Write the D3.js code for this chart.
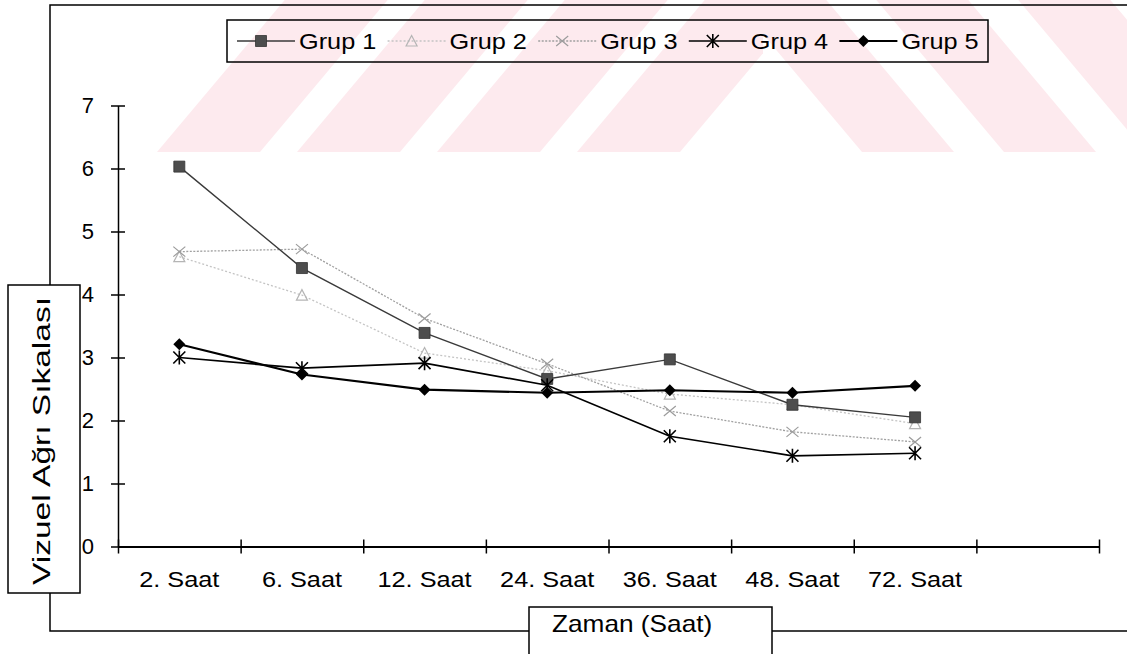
<!DOCTYPE html>
<html>
<head>
<meta charset="utf-8">
<script src="https://cdn.jsdelivr.net/npm/d3@7"></script>
<style>
  body { margin: 0; background: #fff; }
  svg { display: block; }
  text { font-family: "Liberation Sans", Arial, sans-serif; fill: #000; }
</style>
</head>
<body>
<svg id="chart" width="1127" height="654"></svg>
<script>
// Time points (the last band is left empty on the axis)
const times = ["2. Saat", "6. Saat", "12. Saat", "24. Saat", "36. Saat", "48. Saat", "72. Saat", ""];
// Mean visual pain scores per group
const grup1 = [6.03, 4.42, 3.39, 2.66, 2.97, 2.25, 2.05];
const grup2 = [4.60, 3.99, 3.07, 2.79, 2.42, 2.25, 1.95];
const grup3 = [4.68, 4.72, 3.62, 2.90, 2.15, 1.82, 1.66];
const grup4 = [3.00, 2.83, 2.91, 2.56, 1.75, 1.44, 1.48];
const grup5 = [3.21, 2.73, 2.49, 2.44, 2.48, 2.44, 2.55];
const seriesNames = ["Grup 1", "Grup 2", "Grup 3", "Grup 4", "Grup 5"];
const yTicks = [0, 1, 2, 3, 4, 5, 6, 7];
const yTitle = "Vizuel Ağrı Sıkalası";
const xTitle = "Zaman (Saat)";

const svg = d3.select("#chart");
const W = 1127, H = 654;

// ---- pink striped background logo (upper band only) ----
const defs = svg.append("defs");
defs.append("clipPath").attr("id", "wmL").append("rect").attr("x", 0).attr("y", 0).attr("width", 763).attr("height", 152);
defs.append("clipPath").attr("id", "wmR").append("rect").attr("x", 763).attr("y", 0).attr("width", W - 763).attr("height", 152);
const wmColor = "#fdeaee";
const wmSlope = 0.84, wmBase = 152, wmTop = -20;
const leftStarts = [157, 297, 437, 577], leftW = 103;
const rightStarts = [862, 1004, 1146], rightW = 92;
const rise = wmBase - wmTop;
const wmL = svg.append("g").attr("clip-path", "url(#wmL)");
leftStarts.forEach(x0 => {
  wmL.append("path").attr("fill", wmColor)
    .attr("d", d3.line()([[x0, wmBase], [x0 + leftW, wmBase], [x0 + leftW + wmSlope * rise, wmTop], [x0 + wmSlope * rise, wmTop]]) + "Z");
});
const wmR = svg.append("g").attr("clip-path", "url(#wmR)");
rightStarts.forEach(x0 => {
  wmR.append("path").attr("fill", wmColor)
    .attr("d", d3.line()([[x0, wmBase], [x0 + rightW, wmBase], [x0 + rightW - wmSlope * rise, wmTop], [x0 - wmSlope * rise, wmTop]]) + "Z");
});

// ---- scales ----
const plot = { left: 118, right: 1099, top: 105.5, bottom: 546.5 };
const x = d3.scaleBand().domain(times).range([plot.left, plot.right]).paddingInner(0).paddingOuter(0);
const xEdge = d3.scaleLinear().domain([0, times.length]).range([plot.left, plot.right]);
const y = d3.scaleLinear().domain([0, 7]).range([plot.bottom, plot.top]);

function stretched(g, px, py, str, size, sx, anchor) {
  return g.append("text")
    .attr("transform", `translate(${px},${py}) scale(${sx},1)`)
    .attr("font-size", size)
    .attr("text-anchor", anchor)
    .text(str);
}

// ---- outer frame with title boxes ----
const frame = svg.append("g").attr("fill", "none").attr("stroke", "#000").attr("stroke-width", 1.5);
frame.append("path").attr("d", "M50,285 L50,5 L1127,5");
frame.append("path").attr("d", "M50,593 L50,631 L529,631");
frame.append("path").attr("d", "M772,631 L1127,631");
frame.append("rect").attr("x", 8).attr("y", 285).attr("width", 72).attr("height", 308);
frame.append("path").attr("d", "M529,670 L529,607 L772,607 L772,670");

// ---- axis titles ----
svg.append("text")
  .attr("transform", "translate(50,441) rotate(-90)")
  .attr("font-size", 23.5)
  .attr("text-anchor", "middle")
  .attr("textLength", 288)
  .attr("lengthAdjust", "spacingAndGlyphs")
  .text(yTitle);
stretched(svg, 552, 631.5, xTitle, 23, 1.14, "start");

// ---- y axis ----
const yAxis = svg.append("g").attr("transform", `translate(${plot.left},0)`)
  .call(d3.axisLeft(y).tickValues(yTicks).tickSize(7).tickSizeOuter(0).tickFormat(d3.format("d")));
yAxis.select(".domain").attr("stroke", "#000").attr("stroke-width", 1.5);
yAxis.selectAll(".tick line").attr("x1", -7).attr("x2", 7).attr("stroke", "#000").attr("stroke-width", 1.5);
yAxis.selectAll(".tick text").attr("x", -24).attr("font-size", 22).attr("font-family", "Liberation Sans, Arial, sans-serif").attr("fill", "#000");

// ---- x axis (ticks at category boundaries) ----
const xAxis = svg.append("g").attr("transform", `translate(0,${plot.bottom})`)
  .call(d3.axisBottom(xEdge).tickValues(d3.range(times.length + 1)).tickSize(7).tickSizeOuter(0).tickFormat(""));
xAxis.select(".domain").attr("stroke", "#000").attr("stroke-width", 2);
xAxis.selectAll(".tick line").attr("y1", -7).attr("y2", 7).attr("stroke", "#000").attr("stroke-width", 1.5);
const xLabels = svg.append("g");
times.forEach(t => {
  if (t) stretched(xLabels, x(t) + x.bandwidth() / 2, 587, t, 22, 1.15, "middle");
});

// ---- series ----
const styles = [
  { values: grup1, stroke: "#3a3a3a", width: 1.4, dash: null, marker: "square" },
  { values: grup2, stroke: "#c4c4c4", width: 1.3, dash: "2,2", marker: "triangle" },
  { values: grup3, stroke: "#a0a0a0", width: 1.3, dash: "2,1.5", marker: "cross" },
  { values: grup4, stroke: "#000", width: 1.7, dash: null, marker: "asterisk" },
  { values: grup5, stroke: "#000", width: 2.1, dash: null, marker: "diamond" }
];
const markerPaths = {
  square: "M-5.5,-5.5H5.5V5.5H-5.5Z",
  triangle: "M0,-5.5L5.5,5L-5.5,5Z",
  cross: "M-6,-5L6,5M-6,5L6,-5",
  asterisk: "M-6,-6L6,6M-6,6L6,-6M0,-7V7",
  diamond: "M0,-6L6,0L0,6L-6,0Z"
};
function drawMarker(g, s, px, py) {
  const p = g.append("path").attr("d", markerPaths[s.marker]).attr("transform", `translate(${px},${py})`);
  if (s.marker === "square") p.attr("fill", "#4d4d4d").attr("stroke", "#333").attr("stroke-width", 0.8);
  else if (s.marker === "diamond") p.attr("fill", "#000");
  else if (s.marker === "triangle") p.attr("fill", "none").attr("stroke", "#b5b5b5").attr("stroke-width", 1.2);
  else if (s.marker === "cross") p.attr("fill", "none").attr("stroke", "#9c9c9c").attr("stroke-width", 1.2);
  else p.attr("fill", "none").attr("stroke", "#000").attr("stroke-width", 1.6);
}
const line = d3.line().x((d, i) => x(times[i]) + x.bandwidth() / 2).y(d => y(d));
const seriesG = svg.append("g");
[1, 2, 0, 3, 4].forEach(k => {
  const s = styles[k];
  const g = seriesG.append("g");
  g.append("path").attr("d", line(s.values)).attr("fill", "none")
    .attr("stroke", s.stroke).attr("stroke-width", s.width)
    .attr("stroke-dasharray", s.dash);
  s.values.forEach((v, i) => drawMarker(g, s, x(times[i]) + x.bandwidth() / 2, y(v)));
});

// ---- legend ----
const legend = svg.append("g");
legend.append("rect").attr("x", 227).attr("y", 20).attr("width", 761).attr("height", 42)
  .attr("fill", "none").attr("stroke", "#000").attr("stroke-width", 1.5);
seriesNames.forEach((name, i) => {
  const s = styles[i];
  const tx = 299 + 150.6 * i, ly = 41;
  legend.append("line").attr("x1", tx - 62).attr("x2", tx - 4).attr("y1", ly).attr("y2", ly)
    .attr("stroke", s.stroke).attr("stroke-width", s.width).attr("stroke-dasharray", s.dash);
  drawMarker(legend, s, tx - 38, ly);
  stretched(legend, tx, 49, name, 22, 1.15, "start");
});
</script>
</body>
</html>
